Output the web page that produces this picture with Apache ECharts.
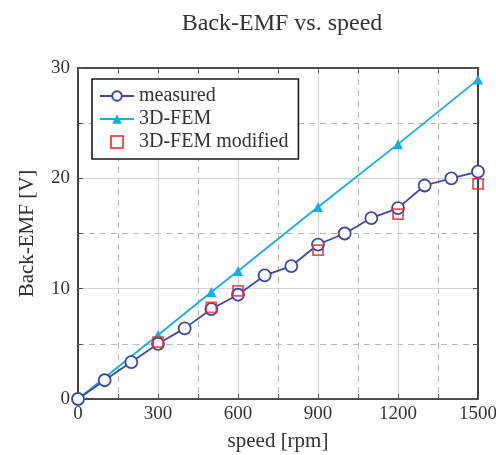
<!DOCTYPE html>
<html><head><meta charset="utf-8">
<script src="https://cdn.jsdelivr.net/npm/echarts@6/dist/echarts.min.js"></script>
<style>html,body{margin:0;padding:0;background:#fff}#c{width:496px;height:455px}</style>
</head><body><div id="c"></div>
<script>
const measuredSpeed = [0,100,200,300,400,500,600,700,800,900,1000,1100,1200,1300,1400,1500];
const measuredEmf = [0,1.7,3.35,5.0,6.4,8.15,9.45,11.2,12.05,14.0,15.0,16.4,17.3,19.35,20.0,20.6];
const femSpeed = [0,300,500,600,900,1200,1500];
const femEmf = [0,5.8,9.7,11.6,17.4,23.1,28.95];
const femModSpeed = [300,500,600,900,1200,1500];
const femModEmf = [5.15,8.3,9.8,13.5,16.75,19.5];
const xTicks = [0,300,600,900,1200,1500];
const yTicks = [0,10,20,30];

const FONT = '"Liberation Serif", serif';
const TXT = '#333';
const zip = (a,b)=>a.map((v,i)=>[v,b[i]]);
const SQUARE = 'path://M0,0H10V10H0Z';

const chart = echarts.init(document.getElementById('c'), null, {renderer:'canvas'});
const baseAxis = (min,max,interval)=>({
  type:'value', min, max, interval,
  axisLine:{show:true,onZero:false,lineStyle:{color:'#1a1a1a',width:1.6}},
  axisTick:{show:true,inside:true,length:5,lineStyle:{color:'#555',width:1}},
  minorTick:{show:true,splitNumber:2,length:5,lineStyle:{color:'#555',width:1}},
});
chart.setOption({
  animation:false,
  title:{text:'Back-EMF vs. speed',left:277,textAlign:'center',top:7,
    textStyle:{fontFamily:FONT,fontSize:24,fontWeight:'normal',color:TXT}},
  grid:{left:78,right:18,top:68,bottom:56,containLabel:false,outerBoundsMode:'none'},
  legend:{
    orient:'vertical',left:92,top:79,
    padding:[7,10,7,7],itemGap:3,itemWidth:34,itemHeight:12,
    borderColor:'#1a1a1a',borderWidth:1.6,backgroundColor:'#fff',
    textStyle:{fontFamily:FONT,fontSize:20,color:TXT},
    data:['measured','3D-FEM',{name:'3D-FEM modified',icon:SQUARE}]
  },
  xAxis:[
    Object.assign(baseAxis(xTicks[0],xTicks[xTicks.length-1],300),{
      position:'bottom',
      name:'speed [rpm]',nameLocation:'middle',nameGap:32,
      nameTextStyle:{fontFamily:FONT,fontSize:21,color:TXT},
      axisLabel:{fontFamily:FONT,fontSize:19,color:TXT,margin:6,formatter:v=>String(v)},
      splitLine:{show:true,lineStyle:{color:'#d4d4d4',width:1}},
      minorSplitLine:{show:true,lineStyle:{color:'#b8b8b8',width:1,type:[6,5]}}
    }),
    Object.assign(baseAxis(xTicks[0],xTicks[xTicks.length-1],300),{
      position:'top',axisLabel:{show:false},splitLine:{show:false}
    })
  ],
  yAxis:[
    Object.assign(baseAxis(yTicks[0],yTicks[yTicks.length-1],10),{
      position:'left',
      name:'Back-EMF [V]',nameLocation:'middle',nameGap:40,
      nameTextStyle:{fontFamily:FONT,fontSize:21,color:TXT},
      axisLabel:{fontFamily:FONT,fontSize:19,color:TXT,margin:8,formatter:v=>String(v)},
      splitLine:{show:true,lineStyle:{color:'#d4d4d4',width:1}},
      minorSplitLine:{show:true,lineStyle:{color:'#b8b8b8',width:1,type:[6,5]}}
    }),
    Object.assign(baseAxis(yTicks[0],yTicks[yTicks.length-1],10),{
      position:'right',axisLabel:{show:false},splitLine:{show:false}
    })
  ],
  series:[
    {name:'3D-FEM',type:'line',data:zip(femSpeed,femEmf),
      lineStyle:{color:'#12aee8',width:1.8},itemStyle:{color:'#12aee8'},
      symbol:'triangle',symbolSize:10,showAllSymbol:true,z:2},
    {name:'measured',type:'line',data:zip(measuredSpeed,measuredEmf),
      lineStyle:{color:'#3c4a9e',width:1.8},
      itemStyle:{color:'#fff',borderColor:'#3c4a9e',borderWidth:1.8},
      symbol:'circle',symbolSize:12,showAllSymbol:true,z:3},
    {name:'3D-FEM modified',type:'scatter',data:zip(femModSpeed,femModEmf),
      itemStyle:{color:'rgba(255,255,255,0)',borderColor:'#e8282e',borderWidth:1.8},
      symbol:SQUARE,symbolKeepAspect:true,symbolSize:10,z:4}
  ]
});
</script></body></html>
